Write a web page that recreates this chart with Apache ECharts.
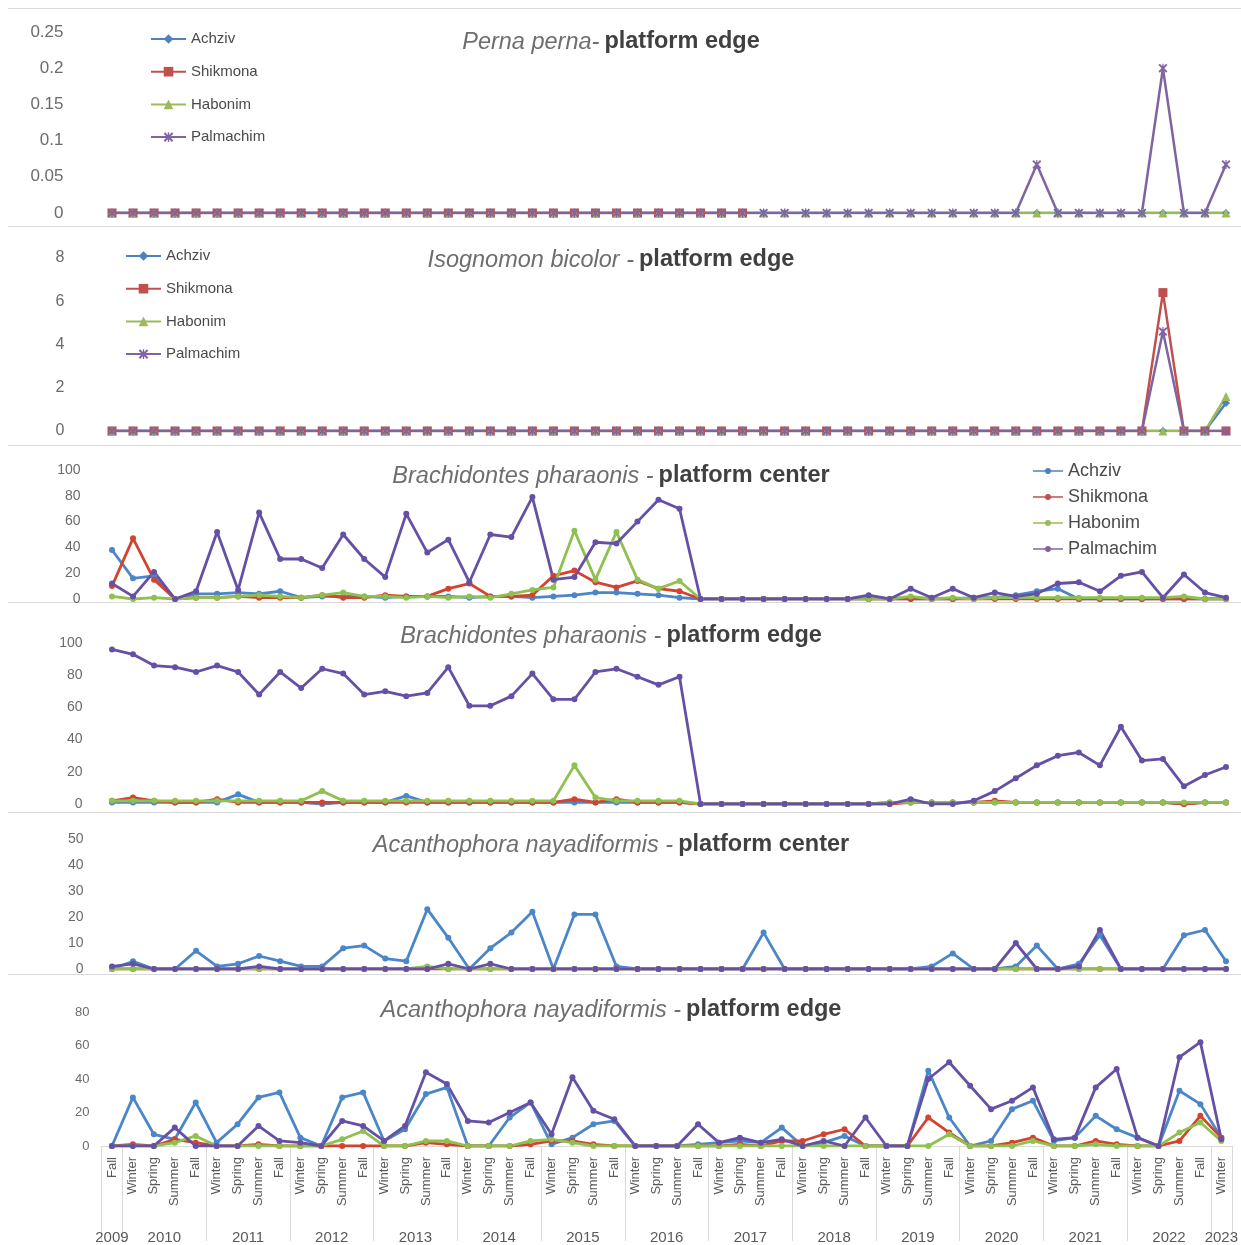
<!DOCTYPE html>
<html>
<head>
<meta charset="utf-8">
<script src="https://cdn.jsdelivr.net/npm/echarts@6/dist/echarts.min.js"></script>
<style>
  html, body { margin: 0; padding: 0; background: #ffffff; }
  #chart { width: 1241px; height: 1245px; }
</style>
</head>
<body>
<div id="chart"></div>
<script>
// Sampling seasons: Fall 2009 through Winter 2023
const years = ['2009', '2010', '2011', '2012', '2013', '2014', '2015', '2016',
               '2017', '2018', '2019', '2020', '2021', '2022', '2023'];
const fullYear = ['Winter', 'Spring', 'Summer', 'Fall'];
const firstYearSeasons = ['Fall'];
const lastYearSeasons = ['Winter'];

const sites = ['Achziv', 'Shikmona', 'Habonim', 'Palmachim'];

// Perna perna - platform edge
const pernaEdgeAchziv = [0, 0,0,0,0, 0,0,0,0, 0,0,0,0, 0,0,0,0, 0,0,0,0, 0,0,0,0, 0,0,0,0, 0,0,0,0, 0,0,0,0, 0,0,0,0, 0,0,0,0, 0,0,0,0, 0,0,0,0, 0];
const pernaEdgeShikmona = [0, 0,0,0,0, 0,0,0,0, 0,0,0,0, 0,0,0,0, 0,0,0,0, 0,0,0,0, 0,0,0,0, 0,0,null,null, null,null,null,null, null,null,null,null, null,null,null,null, null,null,null,null, null,null,null,null, null];
const pernaEdgeHabonim = [0, 0,0,0,0, 0,0,0,0, 0,0,0,0, 0,0,0,0, 0,0,0,0, 0,0,0,0, 0,0,0,0, 0,0,0,0, 0,0,0,0, 0,0,0,0, 0,0,0,0, 0,0,0,0, 0,0,0,0, 0];
const pernaEdgePalmachim = [0, 0,0,0,0, 0,0,0,0, 0,0,0,0, 0,0,0,0, 0,0,0,0, 0,0,0,0, 0,0,0,0, 0,0,0,0, 0,0,0,0, 0,0,0,0, 0,0,0,0.067, 0,0,0,0, 0,0.2,0,0, 0.067];

// Isognomon bicolor - platform edge
const isoEdgeAchziv = [0, 0,0,0,0, 0,0,0,0, 0,0,0,0, 0,0,0,0, 0,0,0,0, 0,0,0,0, 0,0,0,0, 0,0,0,0, 0,0,0,0, 0,0,0,0, 0,0,0,0, 0,0,0,0, 0,0,0,0, 1.3];
const isoEdgeShikmona = [0, 0,0,0,0, 0,0,0,0, 0,0,0,0, 0,0,0,0, 0,0,0,0, 0,0,0,0, 0,0,0,0, 0,0,0,0, 0,0,0,0, 0,0,0,0, 0,0,0,0, 0,0,0,0, 0,6.4,0,0, 0];
const isoEdgeHabonim = [0, 0,0,0,0, 0,0,0,0, 0,0,0,0, 0,0,0,0, 0,0,0,0, 0,0,0,0, 0,0,0,0, 0,0,0,0, 0,0,0,0, 0,0,0,0, 0,0,0,0, 0,0,0,0, 0,0,0,0, 1.6];
const isoEdgePalmachim = [0, 0,0,0,0, 0,0,0,0, 0,0,0,0, 0,0,0,0, 0,0,0,0, 0,0,0,0, 0,0,0,0, 0,0,0,0, 0,0,0,0, 0,0,0,0, 0,0,0,0, 0,0,0,0, 0,4.6,0,0, 0];

// Brachidontes pharaonis - platform center
const brachCenterAchziv = [38, 16,18,0,4, 4,5,4,6, 1,2,2,2, 1,2,2,2, 1,2,2,1, 2,3,5,5, 4,3,1,0, 0,0,0,0, 0,0,0,0, 0,0,0,0, 1,1,3,6, 8,0,0,0, 0,0,0,0, 0];
const brachCenterShikmona = [10, 47,15,0,1, 1,2,1,1, 1,3,1,1, 3,2,2,8, 12,2,2,3, 18,22,13,9, 14,8,6,0, 0,0,0,0, 0,0,0,0, 0,0,0,0, 0,0,0,0, 0,0,0,0, 0,0,0,0, 0];
const brachCenterHabonim = [2, 0,1,0,1, 1,2,3,2, 1,3,5,2, 2,1,2,1, 2,1,4,7, 9,53,15,52, 15,8,14,0, 0,0,0,0, 0,0,0,0, 0,2,0,1, 0,1,1,1, 1,1,1,1, 1,1,2,0, 0];
const brachCenterPalmachim = [12, 2,21,0,6, 52,7,67,31, 31,24,50,31, 17,66,36,46, 13,50,48,79, 15,17,44,43, 60,77,70,0, 0,0,0,0, 0,0,0,3, 0,8,1,8, 1,5,2,4, 12,13,6,18, 21,1,19,5, 1];

// Brachidontes pharaonis - platform edge
const brachEdgeAchziv = [1, 1,1,1,1, 1,6,1,1, 1,0,1,1, 1,5,1,1, 1,1,1,1, 1,1,1,1, 1,1,1,0, 0,0,0,0, 0,0,0,0, 1,1,1,1, 1,1,1,1, 1,1,1,1, 1,1,0,1, 1];
const brachEdgeShikmona = [2, 4,2,1,1, 3,1,1,1, 1,1,1,1, 1,1,1,1, 1,1,1,1, 1,3,1,3, 1,1,1,0, 0,0,0,0, 0,0,0,0, 0,1,1,1, 1,2,1,1, 1,1,1,1, 1,1,0,1, 1];
const brachEdgeHabonim = [2, 2,2,2,2, 2,2,2,2, 2,8,2,2, 2,2,2,2, 2,2,2,2, 2,24,4,2, 2,2,2,0, 0,0,0,0, 0,0,0,0, 1,1,1,1, 1,1,1,1, 1,1,1,1, 1,1,1,1, 1];
const brachEdgePalmachim = [96, 93,86,85,82, 86,82,68,82, 72,84,81,68, 70,67,69,85, 61,61,67,81, 65,65,82,84, 79,74,79,0, 0,0,0,0, 0,0,0,0, 0,3,0,0, 2,8,16,24, 30,32,24,48, 27,28,11,18, 23];

// Acanthophora nayadiformis - platform center
const acanCenterAchziv = [0, 3,0,0,7, 1,2,5,3, 1,1,8,9, 4,3,23,12, 0,8,14,22, 0,21,21,1, 0,0,0,0, 0,0,14,0, 0,0,0,0, 0,0,1,6, 0,0,1,9, 0,2,13,0, 0,0,13,15, 3];
const acanCenterShikmona = [0, 0,0,0,0, 0,0,0,0, 0,0,0,0, 0,0,0,0, 0,0,0,0, 0,0,0,0, 0,0,0,0, 0,0,0,0, 0,0,0,0, 0,0,0,0, 0,0,0,0, 0,0,0,0, 0,0,0,0, 0];
const acanCenterHabonim = [0, 0,0,0,0, 0,0,0,0, 0,0,0,0, 0,0,1,0, 0,0,0,0, 0,0,0,0, 0,0,0,0, 0,0,0,0, 0,0,0,0, 0,0,0,0, 0,0,0,0, 0,0,0,0, 0,0,0,0, 0];
const acanCenterPalmachim = [1, 2,0,0,0, 0,0,1,0, 0,0,0,0, 0,0,0,2, 0,2,0,0, 0,0,0,0, 0,0,0,0, 0,0,0,0, 0,0,0,0, 0,0,0,0, 0,0,10,0, 0,1,15,0, 0,0,0,0, 0];

// Acanthophora nayadiformis - platform edge
const acanEdgeAchziv = [0, 29,7,4,26, 2,13,29,32, 5,0,29,32, 3,10,31,35, 0,0,17,26, 1,5,13,15, 0,0,0,1, 2,3,2,11, 0,2,6,0, 0,0,45,17, 0,3,22,27, 3,5,18,10, 5,0,33,25, 5];
const acanEdgeShikmona = [0, 1,0,4,2, 0,0,1,0, 0,0,0,0, 0,0,2,1, 0,0,0,1, 3,3,1,0, 0,0,0,0, 0,1,0,3, 3,7,10,0, 0,0,17,8, 0,0,2,5, 0,0,3,1, 0,0,3,18, 5];
const acanEdgeHabonim = [0, 0,0,2,6, 0,0,0,0, 0,0,4,9, 0,0,3,3, 0,0,0,3, 4,2,0,0, 0,0,0,0, 0,0,0,0, 0,0,0,0, 0,0,0,7, 0,0,0,3, 0,0,1,0, 0,0,8,14, 3];
const acanEdgePalmachim = [0, 0,0,11,0, 0,0,12,3, 2,0,15,12, 3,12,44,37, 15,14,20,26, 7,41,21,16, 0,0,0,13, 2,5,2,4, 0,3,0,17, 0,0,40,50, 36,22,27,35, 4,5,35,46, 5,0,53,62, 4];

// Axis ranges and tick steps
const yMax = [0.25, 8, 100, 100, 50, 80];
const yStep = [0.05, 2, 20, 20, 10, 20];

// ---------------------------------------------------------------------------
const seasonsByYear = years.map((y, k) =>
  k === 0 ? firstYearSeasons : (k === years.length - 1 ? lastYearSeasons : fullYear));
const categories = [];
const yearStart = [];
const yearCenter = {};
seasonsByYear.forEach((list, k) => {
  const start = categories.length;
  yearStart.push(start);
  list.forEach(s => categories.push(s));
  const end = categories.length - 1;
  yearCenter[(start + end)] = years[k];   // key = 2 * centre index
});
const N = categories.length;

const panels = [
  { italic: 'Perna perna-', bold: 'platform edge', data: [pernaEdgeAchziv, pernaEdgeShikmona, pernaEdgeHabonim, pernaEdgePalmachim], style: 'marker' },
  { italic: 'Isognomon bicolor -', bold: 'platform edge', data: [isoEdgeAchziv, isoEdgeShikmona, isoEdgeHabonim, isoEdgePalmachim], style: 'marker' },
  { italic: 'Brachidontes pharaonis -', bold: 'platform center', data: [brachCenterAchziv, brachCenterShikmona, brachCenterHabonim, brachCenterPalmachim], style: 'dot' },
  { italic: 'Brachidontes pharaonis -', bold: 'platform edge', data: [brachEdgeAchziv, brachEdgeShikmona, brachEdgeHabonim, brachEdgePalmachim], style: 'dot' },
  { italic: 'Acanthophora nayadiformis -', bold: 'platform center', data: [acanCenterAchziv, acanCenterShikmona, acanCenterHabonim, acanCenterPalmachim], style: 'dot' },
  { italic: 'Acanthophora nayadiformis -', bold: 'platform edge', data: [acanEdgeAchziv, acanEdgeShikmona, acanEdgeHabonim, acanEdgePalmachim], style: 'dot' }
];

// Layout of the six stacked plots
const GRID_LEFT = 101.5, GRID_RIGHT = 4.5;
const gridBoxes = [
  { top: 32, height: 181 },
  { top: 258, height: 173 },
  { top: 470, height: 129 },
  { top: 643, height: 161 },
  { top: 839, height: 130 },
  { top: 1012, height: 134 }
];
const titleCenters = [40, 258, 474, 634, 843, 1008];
const TITLE_X = 611;
const labelMargins = [38, 37, 21, 19, 18, 12];
const labelSizes = [17, 16, 14, 14, 14, 13];
const separatorsY = [8, 226, 445, 602, 812, 974];

const markerColors = ['#4f81bd', '#c0504d', '#9bbb59', '#8064a2'];
const dotColors = ['#4a86c8', '#d2442f', '#8fc151', '#6650a6'];

const STAR = 'path://M0,1.5L1.5,0L5,3.5L8.5,0L10,1.5L6.5,5L10,8.5L8.5,10L5,6.5L1.5,10L0,8.5L3.5,5Z M4.3,0H5.7V10H4.3Z';
const markerSymbols = [
  { symbol: 'diamond', size: 8 },
  { symbol: 'rect', size: 9 },
  { symbol: 'triangle', size: 9 },
  { symbol: STAR, size: 9 }
];
const DOT_ICON = 'path://M0,4.2H30V5.8H0Z M15,2A3,3 0 1 1 14.99,2Z';

const FONT = '"Liberation Sans", Arial, sans-serif';

const grid = [], xAxis = [], yAxis = [], series = [], title = [];

gridBoxes.forEach((g, p) => {
  grid.push({ left: GRID_LEFT, right: GRID_RIGHT, top: g.top, height: g.height, containLabel: false });
  const isLast = p === gridBoxes.length - 1;
  xAxis.push({
    type: 'category', gridIndex: p, data: categories, boundaryGap: true,
    show: isLast,
    offset: isLast ? 4 : 0,
    axisLine: { show: isLast, lineStyle: { color: '#d9d9d9', width: 1 } },
    axisTick: {
      show: isLast, length: 95, lineStyle: { color: '#d9d9d9' },
      interval: (idx) => yearStart.indexOf(idx) >= 0
    },
    axisLabel: {
      show: isLast, rotate: 90, interval: 0, fontSize: 13, color: '#595959',
      fontFamily: FONT, margin: 7
    },
    splitLine: { show: false }
  });
  yAxis.push({
    type: 'value', gridIndex: p, min: 0, max: yMax[p], interval: yStep[p],
    axisLine: { show: false }, axisTick: { show: false }, splitLine: { show: false },
    axisLabel: { color: '#6b6b6b', fontSize: labelSizes[p], fontFamily: FONT, margin: labelMargins[p] }
  });
  title.push({
    text: '{i|' + panels[p].italic + '} {b|' + panels[p].bold + '}',
    left: TITLE_X, textAlign: 'center', top: titleCenters[p] - 10,
    padding: 0,
    textStyle: {
      fontWeight: 'normal',
      rich: {
        i: { fontStyle: 'italic', fontWeight: 'normal', fontSize: 23.5, color: '#6e6e6e', fontFamily: FONT },
        b: { fontWeight: 'bold', fontSize: 23.5, color: '#404040', fontFamily: FONT }
      }
    }
  });
  panels[p].data.forEach((values, s) => {
    const marker = panels[p].style === 'marker';
    const color = marker ? markerColors[s] : dotColors[s];
    series.push({
      name: sites[s], type: 'line', xAxisIndex: p, yAxisIndex: p,
      data: values,
      symbol: marker ? markerSymbols[s].symbol : 'circle',
      symbolSize: marker ? markerSymbols[s].size : 6,
      showAllSymbol: true,
      connectNulls: false,
      itemStyle: { color: color },
      lineStyle: { color: color, width: marker ? 2.5 : 2.8 },
      emphasis: { disabled: true },
      animation: false
    });
  });
});

// Year labels under the season labels
xAxis.push({
  type: 'value', gridIndex: 5, position: 'bottom', offset: 81,
  min: -0.5, max: N - 0.5, interval: 0.5,
  axisLine: { show: false }, axisTick: { show: false }, splitLine: { show: false },
  axisLabel: {
    color: '#595959', fontSize: 15, fontFamily: FONT, margin: 3,
    showMinLabel: true, showMaxLabel: true,
    formatter: (v) => yearCenter[Math.round(v * 2)] || ''
  }
});

const legendText = { color: '#4a4a4a', fontFamily: FONT };
const legend = [
  { left: 145, top: 25.5, orient: 'vertical', itemWidth: 35, itemHeight: 12, itemGap: 15.7,
    data: sites, textStyle: Object.assign({ fontSize: 15, lineHeight: 17 }, legendText), selectedMode: false },
  { left: 120, top: 242.5, orient: 'vertical', itemWidth: 35, itemHeight: 12, itemGap: 15.7,
    data: sites, textStyle: Object.assign({ fontSize: 15, lineHeight: 17 }, legendText), selectedMode: false },
  { left: 1028, top: 456, orient: 'vertical', itemWidth: 30, itemHeight: 10, itemGap: 6,
    data: sites.map(n => ({ name: n, icon: DOT_ICON })),
    textStyle: Object.assign({ fontSize: 18, lineHeight: 20 }, legendText), selectedMode: false }
];

const graphicLines = separatorsY.map(y => ({
  type: 'line', shape: { x1: 8, y1: y + 0.5, x2: 1241, y2: y + 0.5 },
  style: { stroke: '#d9d9d9', lineWidth: 1 }, silent: true, z: -1
}));

const chart = echarts.init(document.getElementById('chart'), null, { renderer: 'canvas' });
chart.setOption({
  backgroundColor: '#ffffff',
  animation: false,
  title, grid, xAxis, yAxis, legend, series,
  graphic: graphicLines
});
</script>
</body>
</html>
